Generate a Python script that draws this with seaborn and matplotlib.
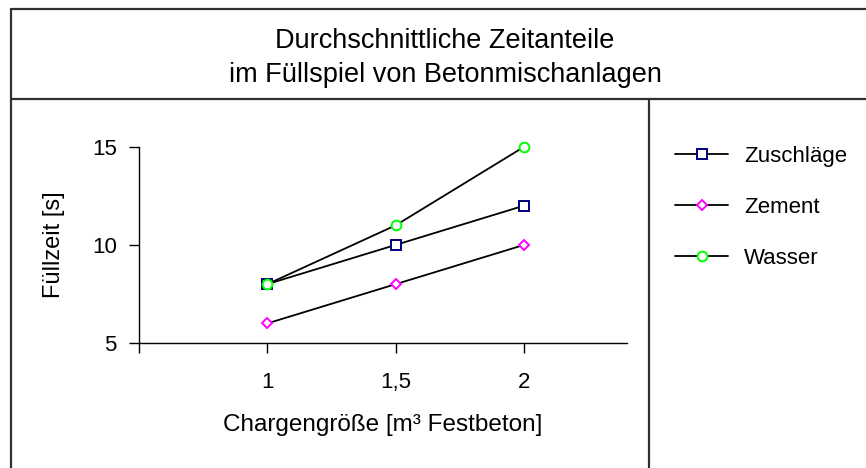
import matplotlib
matplotlib.use("Agg")
import matplotlib.pyplot as plt
from matplotlib.lines import Line2D
import seaborn as sns
import pandas as pd

# Batch size (m³ of fresh concrete) and average filling times (s)
chargen = [1.0, 1.5, 2.0]
zuschlaege = [8, 10, 12]
zement = [6, 8, 10]
wasser = [8, 11, 15]
x_ticklabels = ["", "1", "1,5", "2"]
series_names = ["Zuschläge", "Zement", "Wasser"]

df = pd.DataFrame({
    "Charge": chargen * 3,
    "Zeit": zuschlaege + zement + wasser,
    "Stoff": [n for n in series_names for _ in chargen],
})

sns.set_theme(style="white")
plt.rcParams["font.family"] = ["Liberation Sans", "DejaVu Sans"]
plt.rcParams["text.color"] = "black"

W, H = 866, 468
fig = plt.figure(figsize=(W / 100, H / 100), dpi=100)
fig.patch.set_facecolor("white")


def fx(px):
    return px / W


def fy(py):
    return 1 - py / H


# Frame: outer border, title box, legend divider
frame_kw = dict(color="#303030", lw=1.6, transform=fig.transFigure)
fig.add_artist(Line2D([fx(11), 1], [fy(9), fy(9)], **frame_kw))
fig.add_artist(Line2D([fx(11), fx(11)], [fy(9), 0], **frame_kw))
fig.add_artist(Line2D([fx(11), 1], [fy(99), fy(99)], **frame_kw))
fig.add_artist(Line2D([fx(649), fx(649)], [fy(99), 0], **frame_kw))

fig.text(fx(445), fy(41), "Durchschnittliche Zeitanteile", ha="center", va="center",
         fontsize=19.5, color="black")
fig.text(fx(445), fy(75), "im Füllspiel von Betonmischanlagen", ha="center", va="center",
         fontsize=19.5, color="black")

# Plot area
left, right, top, bottom = 139, 627, 146.7, 343
ax = fig.add_axes([fx(left), fy(bottom), fx(right - left), (bottom - top) / H])
ax.set_facecolor("white")

styles = {
    "Zuschläge": dict(marker="s", markersize=6.5, mec="#000080"),
    "Zement": dict(marker="D", markersize=5, mec="#FF00FF"),
    "Wasser": dict(marker="o", markersize=7, mec="#00FF00"),
}
for name in series_names:
    sub = df[df["Stoff"] == name]
    sns.lineplot(data=sub, x="Charge", y="Zeit", ax=ax, color="black", lw=1.3,
                 mfc="white", mew=1.4, label=name, clip_on=False, **styles[name])

ax.set_xlim(0.5, 2.4)
ax.set_ylim(5, 15)
ax.set_xticks([0.5, 1.0, 1.5, 2.0])
ax.set_xticklabels(x_ticklabels)
ax.set_yticks([5, 10, 15])
for s in ["top", "right"]:
    ax.spines[s].set_visible(False)
for s in ["left", "bottom"]:
    ax.spines[s].set_color("black")
    ax.spines[s].set_linewidth(1.0)
ax.tick_params(axis="both", which="major", direction="out", length=7, width=1.0,
               color="black", labelsize=16, labelcolor="black")
ax.tick_params(axis="x", pad=14)
ax.tick_params(axis="y", pad=9)
ax.tick_params(bottom=True, left=True)

ax.set_xlabel("Chargengröße [m³ Festbeton]", fontsize=17.5, color="black")
ax.set_ylabel("Füllzeit [s]", fontsize=17, color="black")
ax.xaxis.label.set_va("center")
ax.yaxis.label.set_va("center")
ax.xaxis.set_label_coords(0.5, (bottom - 425) / (bottom - top))
ax.yaxis.set_label_coords((54 - left) / (right - left), 0.5)

handles, labels = ax.get_legend_handles_labels()
ax.get_legend().remove()
leg = fig.legend(handles, labels, loc="upper left", bbox_to_anchor=(fx(675), fy(146)),
                 frameon=False, fontsize=16, handlelength=2.4, handletextpad=0.72,
                 labelspacing=1.35, borderpad=0, borderaxespad=0)
for t in leg.get_texts():
    t.set_color("black")

fig.savefig("out.png", dpi=100, facecolor="white")
